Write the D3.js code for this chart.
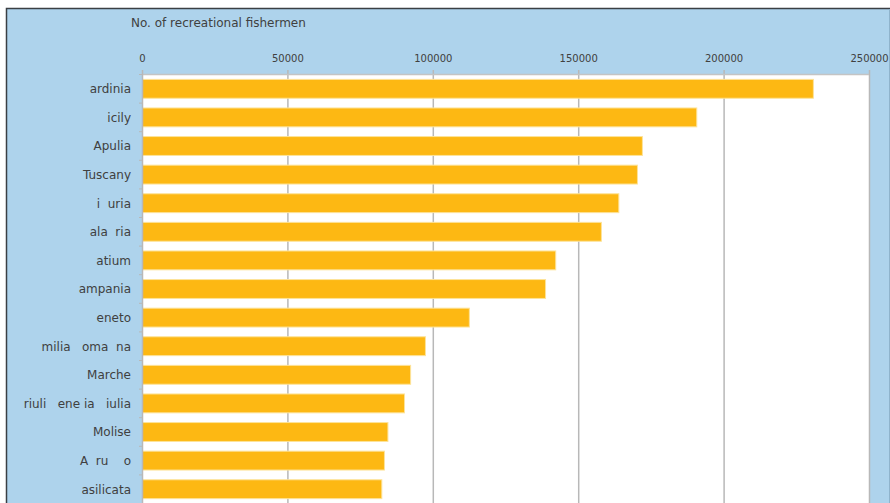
<!DOCTYPE html>
<html>
<head>
<meta charset="utf-8">
<script src="https://cdn.jsdelivr.net/npm/d3@7"></script>
<style>
  body { margin:0; background:#fff; }
  text { font-family: "DejaVu Sans", Verdana, sans-serif; fill:#404040; white-space: pre; }
</style>
</head>
<body>
<div id="chart-area"></div>
<script>
// region labels as they appear in the picture (some glyphs are missing there)
const regions = ["ardinia", "icily", "Apulia", "Tuscany", "i  uria", "ala  ria", "atium",
    "ampania", "eneto", "milia   oma  na", "Marche", "riuli   ene ia   iulia",
    "Molise", "A  ru    o", "asilicata"];
const fishermen = [230700, 190600, 171900, 170200, 163800, 157800, 142100,
    138600, 112400, 97300, 92200, 90100, 84400, 83200, 82300];
const xTicks = [0, 50000, 100000, 150000, 200000, 250000];

const W = 890, H = 503;
const margin = { left:142, right:21, top:74, bottom:0 };
const width = W - margin.left - margin.right;

var svg = d3.select("#chart-area")
    .append("svg")
    .attr("width", W)
    .attr("height", H);

// blue panel with dark frame
svg.append("rect").attr("x", 6.5).attr("y", 8.5).attr("width", W).attr("height", H)
    .attr("fill", "#aed3ec").attr("stroke", "#3a3f44").attr("stroke-width", 1.5);
svg.append("line").attr("x1", 889.5).attr("x2", 889.5).attr("y1", 9).attr("y2", H)
    .attr("stroke", "#8fb3cc");

const g = svg.append("g")
    .attr("transform", "translate(" + margin.left + ", " + margin.top + ")");

const x = d3.scaleLinear().domain([0, 250000]).range([0, width]);
const y = d3.scaleBand().domain(regions)
    .range([0.5, 0.5 + 28.6 * regions.length])
    .paddingInner(0.34).paddingOuter(0.17);

// plot background
g.append("rect").attr("x", 0).attr("y", 0).attr("width", width).attr("height", H)
    .attr("fill", "#fff");

// grid
g.selectAll(".grid").data(xTicks.slice(1)).enter().append("line")
    .attr("x1", d => x(d) + 0.5).attr("x2", d => x(d) + 0.5)
    .attr("y1", -4).attr("y2", H)
    .attr("stroke", "#b8b8b8").attr("stroke-width", 1.5);
g.append("line").attr("x1", 0).attr("x2", width).attr("y1", 0.5).attr("y2", 0.5)
    .attr("stroke", "#c4c4c4").attr("stroke-width", 1.5);

// bars
g.selectAll(".bar").data(regions).enter().append("rect")
    .attr("x", 0.5)
    .attr("y", d => y(d))
    .attr("width", (d, i) => x(fishermen[i]))
    .attr("height", y.bandwidth())
    .attr("fill", "#fdb813")
    .attr("stroke", "#fde39a").attr("stroke-width", 1);

// left axis line and ticks between categories
g.append("line").attr("x1", 0.5).attr("x2", 0.5).attr("y1", -4).attr("y2", H)
    .attr("stroke", "#b8b8b8").attr("stroke-width", 1.5);
const step = y.step();
g.selectAll(".ytick").data(d3.range(regions.length + 1)).enter().append("line")
    .attr("x1", -3).attr("x2", 0)
    .attr("y1", i => 0.5 + i * step).attr("y2", i => 0.5 + i * step)
    .attr("stroke", "#b8b8b8");

// category labels
g.selectAll(".ylab").data(regions).enter().append("text")
    .attr("x", -11)
    .attr("y", d => y(d) + y.bandwidth() / 2)
    .attr("dy", "0.36em")
    .attr("text-anchor", "end")
    .attr("font-size", "12px")
    .text(d => d);

// top axis labels
g.selectAll(".xlab").data(xTicks).enter().append("text")
    .attr("x", d => x(d) + 0.5)
    .attr("y", -12)
    .attr("text-anchor", "middle")
    .attr("font-size", "10px")
    .text(d => d);

// axis title
svg.append("text")
    .attr("x", 131).attr("y", 27)
    .attr("font-size", "12px")
    .text("No. of recreational fishermen");
</script>
</body>
</html>
